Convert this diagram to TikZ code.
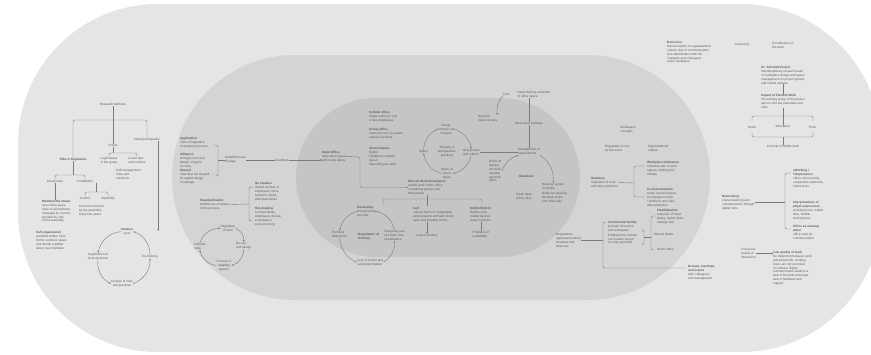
\documentclass[tikz,border=0pt]{standalone}
\usepackage{fontspec}
\setmainfont{Liberation Sans}
\usetikzlibrary{arrows.meta}
\definecolor{pagec}{HTML}{FFFFFF}
\definecolor{outc}{HTML}{E5E5E5}
\definecolor{midc}{HTML}{D4D4D4}
\definecolor{innc}{HTML}{C5C5C5}
\definecolor{textc}{HTML}{5A5A5A}
\definecolor{linec}{HTML}{7C7C7C}
\tikzset{
 nt/.style={font=\fontsize{3.1}{3.9}\selectfont, text=textc, align=left, inner sep=0pt, anchor=north west},
 ntn/.style={nt, anchor=north},
 ntm/.style={nt, anchor=north, align=center},
 ntw/.style={nt, anchor=west},
 ntc/.style={nt, anchor=center},
 lnk/.style={draw=linec, line width=0.4pt},
 arw/.style={lnk, -{Stealth[length=2.2pt,width=1.8pt]}},
 rnd/.style={rounded corners=2pt},
}
\begin{document}
\begin{tikzpicture}[x=1pt,y=-1pt]
\useasboundingbox (0,0) rectangle (871,354);
\fill[pagec] (0,0) rectangle (871,354);
\begin{scope}
\clip (0,0) rectangle (871,354);
\fill[outc, rounded corners=140pt] (18,4) rectangle (881,352);
\end{scope}
\fill[midc, rounded corners=122.5pt] (172,55) rectangle (710,300);
\fill[innc, rounded corners=79.5pt] (296,98) rectangle (580,257);

% ---------------- left outer region ----------------
\node[ntn] (rm) at (113,103) {Research Methods};
\node[ntn] (fr) at (113,144) {Frame};
\node[ntn] (tx) at (73,158) {\textbf{Tribe X Regulation}};
\node[ntn] (vp) at (147,138) {Virtual participation};
\coordinate (brl) at (73,120);
\coordinate (brr) at (147,120);
\draw[lnk] (rm.south) -- (fr.north);
\draw[lnk,rnd] (tx.north) -- (brl) -- (brr) -- (vp.north);

\node[ntn] (f1) at (109,157) {Legal status\\ of the group};
\node[ntn] (f2) at (137,157) {Local rules\\ and routines};
\node[nt] (f3) at (116,169) {Self-management\\ rules and\\ sanctions};
\coordinate (fj) at (113,153);
\draw[lnk] (fr.south) -- (fj);
\draw[lnk,rnd] (f1.north) -- ++(0,-4) -| (f2.north);

\node[ntn] (t1) at (55,180) {Group rules};
\node[ntn] (t2) at (85,180) {Constitution};
\coordinate (tj) at (73,175);
\draw[lnk] (tx.south) -- (tj);
\draw[lnk,rnd] (t1.north) -- ++(0,-5) -| (t2.north);

\node[nt] (t1b) at (42,200) {\textbf{Membership status}\\ up to three years,\\ open to all residents,\\ managed by council,\\ decided by vote\\ in the assembly};
\draw[lnk] (t1.south) -- (t1.south |- t1b.north);

\node[ntn] (t2a) at (85,197) {Council};
\node[ntn] (t2b) at (108,197) {Assembly};
\node[nt] (t2c) at (79,205) {Council is elected\\ by the assembly\\ every two years};
\coordinate (t2j) at (96,192);
\draw[lnk] (t2.south -| t2j) -- (t2j);
\draw[lnk,rnd] (t2a.north) -- ++(0,-5) -| (t2b.north);

\node[nt] (t1c) at (36,231) {\textbf{Self-organization}\\ residents define rules\\ for the common space\\ and decide together\\ about new members};

\node[ntm] (ic) at (127,228) {\textbf{Iteration}\\ cycle};
\node[ntm] (c1) at (98,253) {Legitimation of\\ local decisions};
\node[ntm] (c2) at (150,255) {Re-framing};
\node[ntm] (c3) at (122,280) {Change of rules\\ and practices};
\draw[arw] (ic.west) to[bend right=35] (c1.north);
\draw[arw] (c1.south) to[bend right=35] (c3.west);
\draw[arw] (c3.east) to[bend right=35] (c2.south);
\draw[arw] (c2.north) to[bend right=35] (ic.east);
\coordinate (vpd) at (158,231);
\draw[arw] (vp.south -| vpd) -- (vpd);

% ---------------- middle region, left ----------------
\node[nt] (m1) at (180,137) {\textbf{Application}\\ rules of regulation\\ in design processes};
\node[nt] (m2) at (180,153) {\textbf{Influence}\\ through room and\\ design of space\\ on rules};
\node[nt] (m3) at (180,169) {\textbf{Shared}\\ rules that are shaped\\ by spatial design\\ in settings};
\coordinate (mbt) at (214,145);
\coordinate (mbb) at (214,176);
\coordinate (mbm) at (218,160);
\draw[lnk,rnd] (mbt) -- (218,145) -- (218,176) -- (mbb);
\node[ntw] (mp) at (225,160) {Model/Process\\ Change};
\node[ntw] (fb) at (275,160) {Feedback};
\draw[lnk] (mbm) -- (mp.west);
\draw[lnk] (mp.east) -- (fb.west);

\node[nt] (sd) at (200,199) {\textbf{Standardization}\\ flexible use of space\\ in the process};
\coordinate (sbt) at (253,187);
\coordinate (sbb) at (253,221);
\coordinate (sbm) at (249,204);
\draw[lnk,rnd] (sbt) -- (249,187) -- (249,221) -- (sbb);
\draw[lnk] (sd.east) -- (sbm);
\node[nt] (s1) at (255,182) {\textbf{No rotation}\\ limited number of\\ employees move\\ between rooms\\ with fixed desks};
\node[nt] (s2) at (255,207) {\textbf{Hot-desking}\\ no fixed desks,\\ employees choose\\ a workplace\\ every morning};

\node[ntm] (q1) at (228,225) {Regulation\\ of work};
\node[nt] (q2) at (236,242) {Re-use\\ and design};
\node[ntm] (q3) at (224,260) {Process of\\ adapting\\ spaces};
\node[nt] (q4) at (194,243) {Informal\\ rules};
\draw[arw] (q1.east) to[bend left=35] (q2.north);
\draw[arw] (q2.south) to[bend left=35] (q3.east);
\draw[arw] (q3.west) to[bend left=35] (q4.south);
\draw[arw] (q4.north) to[bend left=35] (q1.west);

% ---------------- inner region ----------------
\node[nt] (oo) at (322,151) {\textbf{Open Office}\\ large open spaces\\ with many desks};
\draw[arw] (fb.east) -- (fb.east -| oo.west);
\node[nt] (ib1) at (369,111) {\textbf{Cellular office}\\ single rooms for one\\ or two employees};
\node[nt] (ib2) at (369,128) {\textbf{Group office}\\ rooms for 3 to 12 people\\ various functions};
\node[nt] (ib3) at (369,147) {\textbf{Shared Space}\\ Hybrid\\ Flexible \& compact\\ layout\\ depending on users};
\node[ntn] (bw) at (427,180) {\textbf{Blurred Work Boundaries}\\ mobile work, home office,\\ co-working spaces and\\ third places};
\coordinate (oj) at (360,157);
\draw[arw,rnd] (oo.east) -- (oj) |- (bw.west);

\coordinate (bl) at (383,205);
\coordinate (br) at (482,205);
\coordinate (bj) at (427,206);
\draw[lnk,rnd] (bl) -- (383,199) -- (482,199) -- (br);
\draw[lnk] (bw.south -| bj) -- (bj);

\node[nt] (lb1) at (357,206) {\textbf{Ownership}\\ through being\\ at home};
\node[nt] (lb2) at (413,207) {\textbf{Cell}\\ various forms of cooperation\\ among teams and with clients\\ open and meeting rooms};
\node[nt] (lb3) at (470,207) {\textbf{Mobile/Hybrid}\\ flexible work\\ mobile devices\\ many locations};
\node[ntn] (lb2b) at (427,234) {Loss of territory};
\draw[arw] (lb2.south -| bj) -- (lb2b.north);
\node[ntn] (lb3b) at (481,231) {Problems of\\ availability};
\draw[lnk] (lb3.south -| lb3b.north) -- (lb3b.north);

\node[nt] (p1) at (332,231) {Personal\\ desk items};
\node[nt] (p2) at (358,233) {\textbf{Negotiation of}\\ \textbf{territory}};
\node[nt] (p3) at (384,230) {Temporary use\\ of a desk, loss\\ of workplace};
\node[ntm] (p4) at (370,259) {Loss of control and\\ self-determination};
\draw[arw] (lb1.west) to[bend right=30] (p1.north);
\draw[arw] (p1.south) to[bend right=30] (p4.west);
\draw[arw] (p4.east) to[bend right=30] (p3.south);
\draw[arw] (p3.north) to[bend right=30] (lb1.east);

\node[ntm] (k1) at (446,124) {Group\\ common use\\ of space};
\node[ntm] (k2) at (447,146) {Shaping of\\ appropriation\\ practices};
\node[nt] (k3) at (419,150) {Space};
\node[nt] (k4) at (463,149) {Group rules\\ and culture};
\node[ntm] (k5) at (447,168) {Rules of\\ use of\\ space};
\draw[arw] (k1.east) to[bend left=30] (k4.north);
\draw[arw] (k4.south) to[bend left=30] (k5.east);
\draw[arw] (k5.west) to[bend left=30] (k3.south);
\draw[arw] (k3.north) to[bend left=30] (k1.west);

\node[ntn] (hv) at (529,148) {Management of\\ requirements};
\node[ntn] (rq) at (529,122) {Work area shortage};
\node[ntn] (tp) at (534,91) {Desk sharing, reduction\\ of office space};
\draw[lnk] (k4.east) -- (k4.east -| hv.west);
\draw[lnk] (hv.north) -- (rq.south);
\draw[lnk] (rq.north) -- (rq.north |- tp.south);
\node[nt] (cs) at (503,93) {Cost};
\node[nt] (nb) at (478,115) {Need for\\ new concepts};
\draw[arw] (cs.south west) to[bend right=25] (nb.north east);

\node[nt] (hc) at (519,175) {\textbf{Handover}};
\node[nt] (hl) at (489,160) {Rules for\\ leaving\\ the desk,\\ clearing\\ personal\\ items};
\node[nt] (hb) at (516,193) {Clean desk\\ policy rules};
\node[nt] (hr1) at (542,183) {Booking system\\ for desks};
\node[nt] (hr2) at (542,192) {Rules for cleaning\\ the desk at the\\ end of the day};
\draw[arw] (hl.east) to[bend left=25] (hv.south west);
\draw[arw] (hv.south east) to[bend left=30] (hr1.north);

% ---------------- middle region, right ----------------
\node[nt] (rg) at (556,233) {Regulations\\ agreements about\\ locations and\\ desk use};
\node[nt] (w0) at (620,126) {Workspace\\ concepts};
\node[nt] (w1) at (605,145) {Regulation of use\\ by the users};
\node[nt] (w2) at (648,145) {Organisational\\ culture};
\node[nt] (st) at (591,177) {\textbf{Statutory}\\ regulation of work\\ and data protection};
\coordinate (sj) at (634,183);
\coordinate (sat) at (645,166);
\coordinate (sbt2) at (645,197);
\draw[lnk] (st.east) -- (sj);
\draw[lnk,rnd] (sat) -- (634,166) -- (634,197) -- (sbt2);
\node[nt] (sa) at (647,161) {\textbf{Workplace Ordinance}\\ minimum size of work\\ spaces, lighting and\\ climate};
\node[nt] (sb) at (647,188) {\textbf{Co-determination}\\ works council agrees\\ to changes of work\\ conditions and rules\\ data protection};

\node[nt] (cm) at (608,221) {\textbf{Commercial facility}\\ provider of service\\ and workspace\\[1pt] Employment contract\\ not location bound\\ no rules specified};
\coordinate (cbt) at (641,230);
\coordinate (cbb) at (641,245);
\coordinate (cbm) at (644,237.5);
\coordinate (cvm) at (651,237.5);
\draw[lnk,rnd] (cbt) -- (644,230) -- (644,245) -- (cbb);
\draw[lnk] (cbm) -- (cvm);
\coordinate (cst) at (656,216);
\coordinate (csb) at (655,250);
\draw[lnk,rnd] (cst) -- (651,216) -- (651,250) -- (csb);
\node[nt] (ca) at (657,209) {\textbf{Flexibilisation}\\ reduction of fixed\\ desks, higher desk-\\ sharing ratio};
\node[nt] (cb) at (654,233) {Shared desks};
\node[nt] (cc) at (657,248) {Home office};

\node[nt] (gp) at (688,265) {\textbf{Groups, meetings}\\ \textbf{and events}\\ with colleagues\\ and management};
\coordinate (cmt) at (607,222);
\coordinate (cmv) at (603,222);
\coordinate (gpl) at (686,268);
\draw[lnk,rnd] (cmt) -- (cmv) |- (gpl);
\draw[lnk] (rg.east) -- (rg.east -| cmv);

% ---------------- right outer region ----------------
\node[nt] (ex) at (667,41) {\textbf{Exclusion}\\ Misconception of organisational\\ culture, lack of communication,\\ less identification with the\\ company and colleagues\\ at the workplace};
\node[nt] (au) at (735,43) {Autonomy};
\node[nt] (co) at (772,42) {Coordination of\\ the work};
\node[ntn] (dg) at (783,66) {\textbf{Dr. Schmidt-Project}\\ interdisciplinary research team\\ on workplace design and space\\ management for project groups\\ and mobile workers};
\node[ntn] (pr) at (783,94) {\textbf{Impact of Flexible Work}\\ the working group of the project\\ aims to find out potentials and\\ risks};
\draw[lnk] (dg.south) -- (pr.north);
\node[ntc] (b1) at (752,127) {Home};
\node[ntc] (b2) at (783,127) {Workplace};
\node[ntc] (b3) at (812,127) {Third};
\coordinate (bt1) at (752,121);
\coordinate (bt2) at (813,121);
\coordinate (bb1) at (752,132);
\coordinate (bb2) at (813,132);
\coordinate (bbm) at (783,137);
\draw[lnk,rnd] (bt1) -- (752,116) -- (813,116) -- (bt2);
\draw[lnk,rnd] (bb1) -- (752,137) -- (813,137) -- (bb2);
\draw[lnk] (pr.south) -- (b2.north);
\node[ntm] (cw) at (783,145) {Concept of Mobile work};
\draw[lnk] (bbm) -- (cw.north);

\node[nt] (nw) at (722,195) {\textbf{Networking}\\ shared learning and\\ communication through\\ digital tools};
\coordinate (sp1) at (791,173);
\coordinate (sp2) at (791,229);
\coordinate (spx) at (785,200);
\draw[lnk,rnd] (sp1) -- (785,173) -- (785,229) -- (sp2);
\draw[lnk] (nw.east) -- (nw.east -| spx);
\node[nt] (r1) at (793,169) {\textbf{eWorking /}\\ \textbf{Telepresence}\\ video conferencing,\\ cooperation platforms,\\ online tools};
\node[nt] (r2) at (793,201) {\textbf{Interpretations of}\\ \textbf{physical presence}\\ working hours, mobile\\ time, flexible\\ working time};
\node[nt] (r3) at (793,225) {\textbf{Office as meeting}\\ \textbf{place}\\ office used for\\ communication};

\node[nt] (pe) at (741,248) {Perceived\\ quality of\\ interaction};
\node[nt] (pr2) at (773,251) {\textbf{Low quality of work}\\ No distinction between work\\ and private life, working\\ hours are not recorded.\\ In contrast, digital\\ communication leads to a\\ lack of informal exchange,\\ lack of feedback and\\ support};
\draw[lnk] (pe.east) -- (pe.east -| pr2.west);
\end{tikzpicture}
\end{document}
